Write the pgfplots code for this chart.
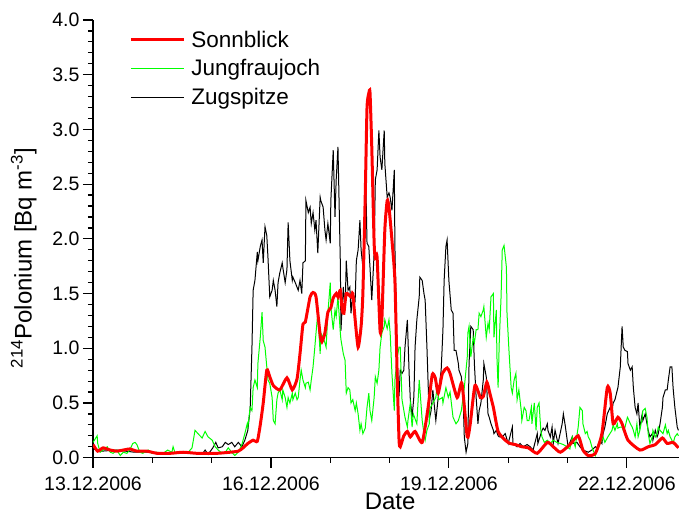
\documentclass[border=0pt]{standalone}
\usepackage{fontspec}
\setmainfont{Liberation Sans}
\usepackage{pgfplots}
\pgfplotsset{compat=1.18}
\definecolor{pured}{RGB}{255,0,0}
\definecolor{pugreen}{RGB}{0,255,0}
\begin{document}
\begin{tikzpicture}
\useasboundingbox (0,0) rectangle (679pt,515pt);
\begin{axis}[
  at={(93pt,57.3pt)}, anchor=south west,
  width=586pt, height=437.7pt, scale only axis,
  xmin=0, xmax=9.88, ymin=0, ymax=4,
  axis x line*=bottom, axis y line*=left,
  axis line style={-, line width=1.3pt},
  tick align=outside,
  major tick length=10pt, minor tick length=5pt,
  every tick/.style={black, line width=1.2pt},
  xtick={0,3,6,9},
  xticklabels={13.12.2006,16.12.2006,19.12.2006,22.12.2006},
  minor xtick={1,2,4,5,7,8},
  ytick={0,0.5,1,1.5,2,2.5,3,3.5,4},
  minor y tick num=4,
  yticklabel style={/pgf/number format/.cd, fixed, fixed zerofill, precision=1},
  xticklabel style={yshift=-6pt},
  /pgf/number format/assume math mode=true,
  tick label style={font=\fontsize{19.5}{22}\selectfont},
  label style={font=\fontsize{24}{28}\selectfont},
  xlabel={Date},
  ylabel={\textsuperscript{214}Polonium [Bq m\textsuperscript{-3}]},
  xlabel style={at={(axis description cs:0.507,-0.1185)}, anchor=base, inner sep=0pt},
  ylabel style={at={(axis description cs:-0.09,0.456)}, anchor=south},
  reverse legend,
  legend cell align=left,
  legend style={draw=none, fill=none, at={(axis description cs:0.0565,0.985)}, anchor=north west,
    font=\fontsize{22.5}{27}\selectfont, row sep=7pt},
  legend image code/.code={\draw[#1] (0pt,0pt) -- (53pt,0pt); \path (57pt,0pt);},
]
% Zugspitze
\addplot[black, line width=1pt] table {
x y
0.00 0.08
0.15 0.06
0.40 0.07
0.70 0.05
1.00 0.05
1.30 0.04
1.60 0.04
1.85 0.04
1.89 0.07
1.94 0.03
2.02 0.09
2.07 0.14
2.11 0.09
2.18 0.10
2.23 0.14
2.28 0.12
2.34 0.14
2.39 0.10
2.45 0.14
2.51 0.10
2.56 0.16
2.61 0.25
2.65 0.45
2.68 1.01
2.70 1.53
2.73 1.62
2.77 1.88
2.78 1.80
2.82 1.93
2.85 1.99
2.87 1.78
2.90 2.11
2.93 2.03
2.95 1.83
2.98 1.47
3.02 1.53
3.04 1.62
3.07 1.53
3.10 1.38
3.12 1.60
3.15 1.69
3.19 1.78
3.20 1.74
3.24 1.60
3.27 1.72
3.29 2.15
3.32 1.80
3.36 1.62
3.37 1.65
3.41 1.60
3.46 1.53
3.49 1.62
3.52 1.50
3.54 1.78
3.58 1.80
3.59 2.35
3.63 2.24
3.66 2.29
3.68 2.14
3.71 2.24
3.74 2.08
3.76 2.17
3.79 1.87
3.83 2.38
3.84 2.35
3.88 2.29
3.91 2.08
3.93 1.99
3.96 2.14
4.00 1.96
4.01 2.35
4.05 2.81
4.08 2.20
4.10 2.54
4.13 2.84
4.17 1.78
4.18 1.16
4.22 1.56
4.25 1.35
4.27 1.80
4.30 1.53
4.33 1.56
4.35 1.32
4.38 1.50
4.42 1.44
4.44 1.80
4.47 1.90
4.50 2.17
4.52 1.90
4.55 1.74
4.59 2.17
4.60 2.51
4.62 1.96
4.65 1.93
4.67 1.74
4.70 1.44
4.74 1.87
4.76 2.54
4.79 2.63
4.82 2.99
4.84 2.75
4.87 2.63
4.91 2.99
4.92 2.69
4.96 2.38
4.99 2.42
5.01 2.38
5.04 2.26
5.08 2.63
5.09 1.93
5.13 0.86
5.16 0.56
5.18 0.80
5.21 0.77
5.24 0.80
5.26 1.01
5.30 1.26
5.33 0.77
5.35 0.53
5.38 0.37
5.41 0.56
5.43 1.01
5.46 1.26
5.50 1.47
5.51 1.65
5.55 1.62
5.58 1.50
5.60 1.44
5.63 1.01
5.67 0.35
5.70 0.43
5.73 0.62
5.75 0.50
5.78 0.34
5.82 0.55
5.83 0.62
5.87 0.80
5.90 1.17
5.92 1.62
5.95 1.93
5.97 1.99
6.00 1.62
6.04 1.35
6.07 1.32
6.09 0.98
6.12 0.98
6.16 0.86
6.17 0.80
6.21 0.74
6.24 0.55
6.26 0.19
6.29 0.05
6.32 0.13
6.34 0.86
6.37 1.20
6.41 1.17
6.43 0.86
6.46 0.55
6.49 0.31
6.51 0.43
6.54 0.50
6.58 0.71
6.59 0.86
6.63 0.74
6.66 0.40
6.68 0.37
6.71 0.31
6.75 0.25
6.76 0.22
6.80 0.25
6.83 0.20
6.85 0.19
6.90 0.19
6.95 0.22
7.00 0.13
7.07 0.28
7.08 0.13
7.15 0.10
7.20 0.13
7.25 0.10
7.32 0.12
7.37 0.10
7.42 0.07
7.49 0.22
7.50 0.13
7.57 0.25
7.59 0.27
7.62 0.25
7.66 0.31
7.67 0.25
7.71 0.19
7.74 0.28
7.76 0.13
7.79 0.25
7.84 0.13
7.91 0.31
7.93 0.40
7.96 0.30
8.01 0.10
8.08 0.19
8.09 0.13
8.16 0.14
8.21 0.10
8.26 0.07
8.35 0.05
8.41 0.07
8.47 0.10
8.50 0.09
8.55 0.16
8.58 0.13
8.60 0.22
8.63 0.28
8.67 0.40
8.72 0.46
8.75 0.43
8.77 0.50
8.80 0.53
8.84 0.62
8.85 0.64
8.89 0.83
8.92 1.20
8.94 1.01
8.97 0.98
9.01 0.97
9.02 0.86
9.06 0.80
9.09 0.83
9.11 0.64
9.14 0.46
9.17 0.40
9.19 0.50
9.22 0.28
9.26 0.40
9.27 0.34
9.31 0.40
9.34 0.31
9.36 0.25
9.39 0.19
9.43 0.22
9.44 0.16
9.48 0.25
9.51 0.19
9.53 0.22
9.56 0.31
9.60 0.46
9.61 0.55
9.65 0.62
9.68 0.62
9.70 0.71
9.73 0.83
9.76 0.83
9.78 0.64
9.81 0.46
9.85 0.28
9.87 0.25
};
\addlegendentry{Zugspitze}
% Jungfraujoch
\addplot[pugreen, line width=1pt] table {
x y
0.00 0.14
0.07 0.20
0.08 0.13
0.12 0.05
0.17 0.07
0.24 0.10
0.29 0.05
0.34 0.04
0.40 0.07
0.46 0.02
0.51 0.05
0.57 0.04
0.62 0.07
0.67 0.13
0.71 0.14
0.74 0.12
0.79 0.05
0.84 0.04
0.93 0.07
0.99 0.04
1.08 0.05
1.18 0.04
1.26 0.07
1.33 0.05
1.35 0.10
1.38 0.05
1.47 0.04
1.59 0.04
1.67 0.09
1.72 0.25
1.77 0.22
1.84 0.18
1.89 0.24
1.94 0.19
2.01 0.16
2.06 0.10
2.11 0.07
2.18 0.04
2.23 0.05
2.28 0.09
2.34 0.05
2.39 0.02
2.45 0.05
2.51 0.12
2.56 0.22
2.60 0.31
2.61 0.28
2.65 0.46
2.68 0.43
2.70 0.64
2.73 0.71
2.77 0.64
2.78 0.86
2.82 1.10
2.85 1.33
2.87 1.07
2.90 1.01
2.93 0.83
2.95 0.71
2.98 0.68
3.02 0.55
3.04 0.34
3.07 0.31
3.10 0.53
3.12 0.59
3.15 0.62
3.19 0.53
3.20 0.62
3.24 0.55
3.27 0.46
3.29 0.55
3.32 0.50
3.36 0.59
3.37 0.53
3.41 0.59
3.44 0.53
3.46 0.55
3.49 0.71
3.51 0.80
3.54 0.71
3.58 0.64
3.59 0.68
3.63 0.69
3.66 0.62
3.68 0.71
3.71 0.83
3.74 1.01
3.76 1.14
3.79 1.32
3.83 0.95
3.84 1.14
3.88 1.10
3.91 1.05
3.93 1.01
3.96 1.32
4.00 1.60
4.01 1.38
4.05 1.17
4.08 1.35
4.10 1.29
4.13 1.47
4.17 1.14
4.18 1.08
4.22 0.95
4.25 0.89
4.27 0.59
4.30 0.64
4.33 0.62
4.35 0.50
4.38 0.53
4.42 0.43
4.44 0.50
4.47 0.40
4.50 0.25
4.52 0.31
4.55 0.22
4.59 0.27
4.62 0.46
4.65 0.59
4.67 0.43
4.70 0.34
4.74 0.55
4.76 0.74
4.79 0.68
4.82 0.80
4.84 1.01
4.87 1.14
4.91 1.20
4.92 1.26
4.96 1.18
4.99 1.26
5.01 1.14
5.04 0.77
5.08 0.43
5.09 0.71
5.13 0.92
5.16 1.01
5.18 1.01
5.21 0.53
5.26 0.37
5.30 0.28
5.31 0.34
5.35 0.50
5.38 0.28
5.40 0.40
5.46 0.31
5.50 0.71
5.51 0.64
5.55 0.34
5.58 0.22
5.60 0.16
5.63 0.25
5.67 0.31
5.68 0.45
5.73 0.50
5.78 0.55
5.80 0.64
5.83 0.53
5.89 0.55
5.90 0.50
5.95 0.64
5.99 0.55
6.02 0.60
6.07 0.37
6.12 0.31
6.16 0.34
6.21 0.43
6.26 0.64
6.31 0.92
6.32 1.14
6.34 1.20
6.37 0.92
6.41 1.10
6.43 1.05
6.46 1.17
6.49 1.17
6.51 1.32
6.54 1.29
6.58 1.35
6.59 1.38
6.63 1.10
6.66 1.23
6.68 1.17
6.71 1.47
6.75 1.50
6.76 1.10
6.80 1.35
6.81 0.92
6.83 0.64
6.85 1.07
6.88 1.47
6.90 1.90
6.93 1.94
6.97 1.74
6.98 1.32
7.01 1.01
7.05 0.64
7.07 0.59
7.10 0.71
7.13 0.77
7.15 0.53
7.18 0.62
7.22 0.43
7.23 0.34
7.27 0.46
7.30 0.43
7.32 0.34
7.35 0.34
7.39 0.46
7.40 0.31
7.44 0.50
7.47 0.25
7.49 0.46
7.52 0.50
7.55 0.25
7.57 0.19
7.61 0.14
7.66 0.16
7.71 0.13
7.76 0.16
7.82 0.14
7.88 0.13
7.93 0.12
7.99 0.10
8.04 0.08
8.08 0.19
8.13 0.10
8.18 0.28
8.21 0.46
8.25 0.43
8.26 0.31
8.30 0.22
8.33 0.24
8.35 0.19
8.38 0.16
8.41 0.10
8.43 0.07
8.47 0.02
8.50 0.07
8.52 0.10
8.58 0.16
8.60 0.19
8.63 0.14
8.68 0.19
8.75 0.25
8.77 0.30
8.80 0.25
8.84 0.31
8.85 0.27
8.89 0.28
8.92 0.28
8.94 0.25
8.97 0.28
9.01 0.37
9.02 0.36
9.06 0.31
9.09 0.28
9.11 0.25
9.14 0.19
9.17 0.31
9.19 0.19
9.22 0.25
9.26 0.37
9.27 0.43
9.31 0.45
9.34 0.37
9.36 0.22
9.39 0.13
9.43 0.19
9.44 0.25
9.48 0.19
9.51 0.22
9.53 0.28
9.56 0.25
9.61 0.22
9.65 0.30
9.68 0.22
9.70 0.25
9.73 0.19
9.76 0.16
9.78 0.13
9.81 0.19
9.85 0.22
9.87 0.20
};
\addlegendentry{Jungfraujoch}
% Sonnblick
\addplot[pured, line width=3pt, smooth, tension=0.35] table {
x y
0.00 0.12
0.08 0.06
0.17 0.09
0.29 0.07
0.40 0.06
0.51 0.07
0.62 0.08
0.74 0.06
0.91 0.06
1.08 0.04
1.30 0.04
1.52 0.05
1.75 0.04
1.89 0.04
2.09 0.04
2.31 0.05
2.45 0.06
2.53 0.09
2.61 0.13
2.70 0.16
2.77 0.15
2.82 0.30
2.87 0.50
2.93 0.80
2.98 0.74
3.04 0.66
3.15 0.62
3.27 0.73
3.36 0.62
3.44 0.72
3.49 0.95
3.54 1.22
3.58 1.24
3.66 1.47
3.71 1.51
3.76 1.47
3.83 1.12
3.86 1.06
3.91 1.14
3.96 1.33
4.01 1.37
4.05 1.46
4.10 1.50
4.13 1.47
4.17 1.53
4.20 1.35
4.23 1.32
4.27 1.50
4.35 1.47
4.38 1.50
4.42 1.26
4.47 1.01
4.52 1.20
4.55 1.50
4.59 2.40
4.62 3.20
4.65 3.33
4.67 3.34
4.70 2.84
4.74 1.96
4.76 1.83
4.79 1.83
4.84 1.16
4.87 1.26
4.92 2.08
4.96 2.35
4.99 2.29
5.04 1.99
5.09 1.62
5.13 0.71
5.16 0.16
5.18 0.10
5.24 0.20
5.30 0.24
5.35 0.19
5.43 0.24
5.55 0.14
5.65 0.46
5.72 0.76
5.77 0.73
5.82 0.59
5.89 0.77
5.97 0.82
6.02 0.77
6.14 0.55
6.22 0.68
6.31 0.19
6.36 0.31
6.44 0.66
6.53 0.55
6.58 0.56
6.64 0.69
6.69 0.59
6.75 0.46
6.83 0.24
6.95 0.16
7.03 0.13
7.12 0.12
7.23 0.10
7.34 0.09
7.49 0.04
7.66 0.14
7.76 0.10
7.88 0.05
8.04 0.12
8.18 0.20
8.26 0.07
8.35 0.02
8.47 0.04
8.58 0.22
8.67 0.64
8.72 0.59
8.77 0.31
8.85 0.37
8.92 0.31
9.02 0.16
9.22 0.07
9.36 0.10
9.48 0.12
9.60 0.18
9.68 0.13
9.78 0.14
9.87 0.09
};
\addlegendentry{Sonnblick}
\end{axis}
\end{tikzpicture}
\end{document}
